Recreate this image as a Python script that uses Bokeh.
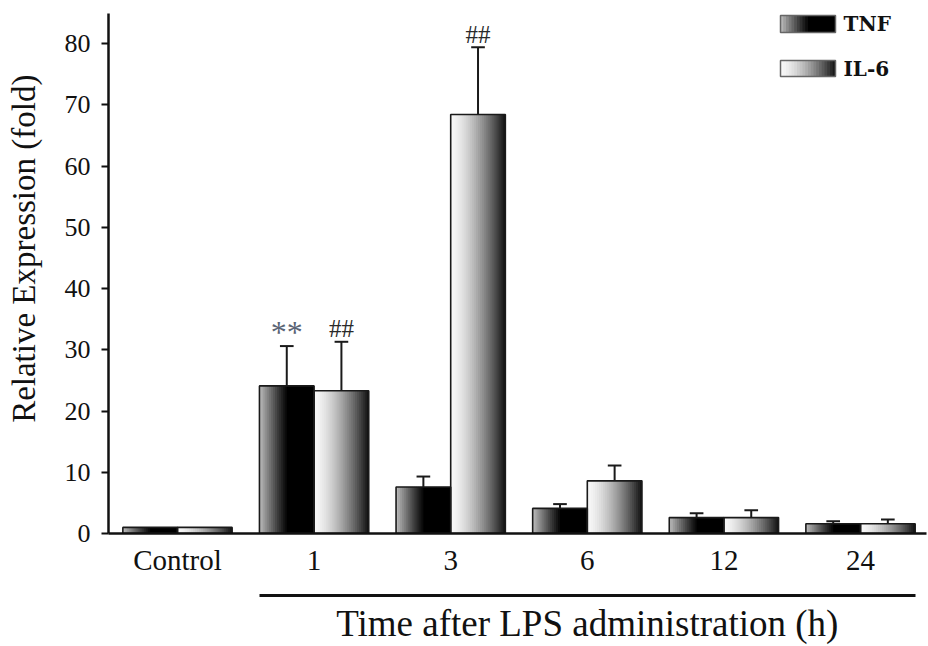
from bokeh.plotting import figure
from bokeh.models import (ColumnDataSource, Range1d, FixedTicker, BoxAnnotation, Label,
                          LinearAxis, CustomJSTickFormatter)
from bokeh.embed import file_html
from bokeh.resources import INLINE
from bokeh.core.properties import value
import json

# ---- data ----
groups = ["Control", "1", "3", "6", "12", "24"]
tnf = [1.0, 24.1, 7.6, 4.1, 2.6, 1.6]
tnf_err = [0.0, 6.5, 1.7, 0.7, 0.7, 0.4]
il6 = [1.0, 23.3, 68.4, 8.6, 2.6, 1.6]
il6_err = [0.0, 8.0, 11.0, 2.5, 1.2, 0.7]
tnf_marks = ["", "**", "", "", "", ""]
il6_marks = ["", "##", "##", "", "", ""]
y_ticks = [0, 10, 20, 30, 40, 50, 60, 70, 80]
series_names = ["TNF", "IL-6"]
time_label = "Time after LPS administration (h)"
y_label = "Relative Expression (fold)"

SERIF = "Liberation Serif"
BAR_W = 0.4
OFFS = [-0.2, 0.2]
N = 28


def tnf_shade(t):
    v = 190 * max(0.0, 1 - t / 0.52) ** 1.1
    return int(round(v))


def il6_shade(t):
    v = 248 - 232 * t ** 1.5
    return int(round(v))


shades = [tnf_shade, il6_shade]


def gray(v):
    v = max(0, min(255, v))
    return "#%02x%02x%02x" % (v, v, v)


p = figure(width=928, height=646, output_backend="svg", toolbar_location=None,
           x_range=Range1d(-0.505, 5.483), y_range=Range1d(0, 84.9),
           min_border_left=108, min_border_right=2, min_border_top=13, min_border_bottom=113)
p.outline_line_color = None
p.xgrid.grid_line_color = None
p.ygrid.grid_line_color = None

# gradient bars built from overlapping strips (left to right)
ql, qr, qt, qc = [], [], [], []
ox, otop = [], []
for s, vals in enumerate([tnf, il6]):
    for i, v in enumerate(vals):
        xc = i + OFFS[s]
        ox.append(xc)
        otop.append(v)
        left, right = xc - BAR_W / 2, xc + BAR_W / 2
        w = BAR_W / N
        for k in range(N):
            t = (k + 0.5) / N
            ql.append(left + k * w)
            qr.append(min(right, left + (k + 2) * w))
            qt.append(v)
            qc.append(gray(shades[s](t)))

p.quad(left="l", right="r", top="t", bottom=0, color="c", line_color=None,
       source=ColumnDataSource(dict(l=ql, r=qr, t=qt, c=qc)))
p.vbar(x=ox, top=otop, bottom=0, width=BAR_W, fill_color=None, line_color="#1a1a1a", line_width=1.6)

# error bars (upper only)
ex, ey0, ey1 = [], [], []
for s, (vals, errs) in enumerate([(tnf, tnf_err), (il6, il6_err)]):
    for i, (v, e) in enumerate(zip(vals, errs)):
        if e > 0:
            ex.append(i + OFFS[s])
            ey0.append(v)
            ey1.append(v + e)
p.segment(x0=ex, y0=ey0, x1=ex, y1=ey1, line_color="#1a1a1a", line_width=2)
p.segment(x0=[x - 0.05 for x in ex], y0=ey1, x1=[x + 0.05 for x in ex], y1=ey1,
          line_color="#1a1a1a", line_width=2)

# significance marks
mx, my, mt, mc, ms, mo = [], [], [], [], [], []
for s, (vals, errs, marks) in enumerate([(tnf, tnf_err, tnf_marks), (il6, il6_err, il6_marks)]):
    for i, m in enumerate(marks):
        if m:
            mx.append(i + OFFS[s])
            my.append(vals[i] + errs[i])
            mt.append(m)
            star = m.startswith("*")
            mc.append("#5a6475" if star else "#2a2a2a")
            ms.append("32px" if star else "25px")
            mo.append(-14 if star else -13)
p.text(x="x", y="y", text="t", text_color="c", text_font_size="s", y_offset="o",
       text_align="center", text_baseline="alphabetic", text_font=value(SERIF),
       source=ColumnDataSource(dict(x=mx, y=my, t=mt, c=mc, s=ms, o=mo)))

# axes
p.yaxis.ticker = FixedTicker(ticks=y_ticks)
p.yaxis.axis_label = "\u00a0" * 6 + y_label
p.yaxis.axis_label_text_font = SERIF
p.yaxis.axis_label_text_font_style = "normal"
p.yaxis.axis_label_text_font_size = "33px"
p.yaxis.axis_label_text_color = "#111111"
p.yaxis.axis_label_standoff = 20
p.yaxis.major_label_text_font = SERIF
p.yaxis.major_label_text_font_size = "26px"
p.yaxis.major_label_text_color = "#111111"
p.yaxis.major_label_standoff = 11
p.yaxis.axis_line_width = 2.5
p.yaxis.axis_line_color = "#111111"
p.yaxis.major_tick_line_width = 2
p.yaxis.major_tick_line_color = "#111111"
p.yaxis.major_tick_out = 7
p.yaxis.major_tick_in = 0
p.yaxis.minor_tick_line_color = None

xa = p.xaxis[0]
xa.ticker = FixedTicker(ticks=list(range(len(groups))))
xa.major_label_overrides = {i: g for i, g in enumerate(groups)}
xa.major_label_text_font = SERIF
xa.major_label_text_font_size = "29px"
xa.major_label_text_color = "#111111"
xa.major_label_standoff = 4
xa.axis_line_width = 2.5
xa.axis_line_color = "#111111"
xa.major_tick_line_color = None
xa.minor_tick_line_color = None
xa.axis_label = " "
xa.axis_label_text_font_size = "8px"
xa.axis_label_standoff = 5

# bracket line under the time groups, with its title as the centred label
x_lo = 1 + OFFS[0] - BAR_W / 2
x_hi = len(groups) - 1 + OFFS[1] + BAR_W / 2
mid = round((x_lo + x_hi) / 2, 6)
ax2 = LinearAxis(bounds=(x_lo, x_hi), ticker=FixedTicker(ticks=[mid]),
                 formatter=CustomJSTickFormatter(code="return %s;" % json.dumps(time_label)),
                 axis_line_width=3, axis_line_color="#111111",
                 major_tick_line_color=None, minor_tick_line_color=None,
                 major_label_text_font=SERIF, major_label_text_font_size="37px",
                 major_label_text_color="#111111", major_label_standoff=1)
p.add_layout(ax2, "below")

# legend (screen units, frame-relative)
leg = [(501, 518), (457, 473)]
for s, (b, t) in enumerate(leg):
    L, R = 672, 727
    M = 20
    w = (R - L) / M
    for k in range(M):
        tt = (k + 0.5) / M
        p.add_layout(BoxAnnotation(left=L + k * w, right=min(R, L + (k + 2) * w),
                                   bottom=b, top=t,
                                   left_units="screen", right_units="screen",
                                   bottom_units="screen", top_units="screen",
                                   fill_color=gray(shades[s](tt)), fill_alpha=1, line_color=None))
    p.add_layout(BoxAnnotation(left=L, right=R, bottom=b, top=t,
                               left_units="screen", right_units="screen",
                               bottom_units="screen", top_units="screen",
                               fill_color=None, fill_alpha=0, line_color="#666666", line_width=1.5,
                               line_alpha=1))
    p.add_layout(Label(x=735, y=(b + t) / 2, x_units="screen", y_units="screen",
                       text=series_names[s], text_baseline="middle", text_align="left",
                       text_font="DejaVu Serif", text_font_style="bold", text_font_size="20px",
                       text_color="#111111"))

open("out.html", "w").write(file_html(p, INLINE))
